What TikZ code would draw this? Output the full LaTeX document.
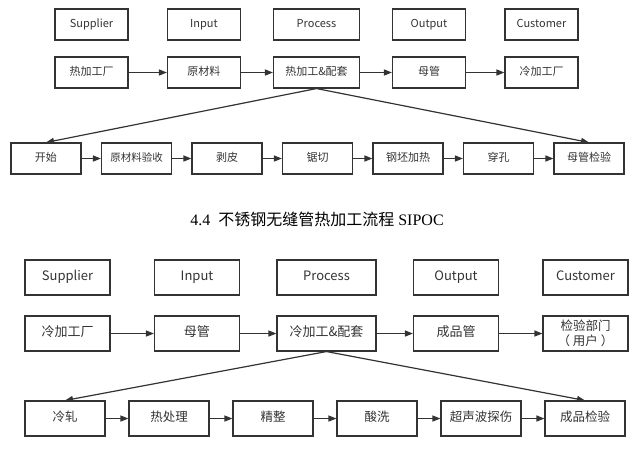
\documentclass[tikz,border=0pt]{standalone}
\usepackage{fontspec}
\setmainfont{Liberation Serif}
\newfontfamily\cjk{Noto Sans CJK SC}
\usetikzlibrary{arrows.meta}
\definecolor{ink}{HTML}{333333}
\tikzset{
  box/.style={draw=ink, line width=1.1pt, text=ink, inner sep=1pt, anchor=center,
    text height=0.82em, text depth=0.24em,
    minimum width=73pt, minimum height=31pt, font=\cjk\fontsize{11}{13}\selectfont},
  bigbox/.style={box, minimum width=85pt, minimum height=35pt,
    font=\cjk\fontsize{13}{15}\selectfont},
  link/.style={draw=ink, line width=1.2pt, -{Triangle[length=8pt,width=6pt]}},
}

\begin{document}
\begin{tikzpicture}[x=1pt, y=-1pt]
    \useasboundingbox (0,0) rectangle (642,450);
    % hot working SIPOC
    \matrix[nodes=box, column sep={112.5pt,between origins}, row sep={48pt,between origins}] at (316.5,48.5) {
    \node (S) {Supplier}; & \node (I) {Input}; & \node[minimum width=86pt] (P) {Process}; & \node (O) {Output}; & \node (C) {Customer}; \\
    \node (s) {热加工厂}; & \node (i) {原材料}; & \node[minimum width=86pt] (p) {热加工\&配套}; & \node (o) {母管}; & \node (c) {冷加工厂}; \\
    };
    \matrix[nodes={box, minimum width=70pt}, column sep={90.5pt,between origins}] at (317.5,158.5) {
    \node (start) {开始}; & \node[font=\cjk\fontsize{10.5}{12}\selectfont] (accept) {原材料验收}; & \node (peel) {剥皮}; & \node (saw) {锯切}; & \node (heat) {钢坯加热}; & \node (pierce) {穿孔}; & \node (check) {母管检验}; \\
    };
    \draw[link] (s) -- (i);
    \draw[link] (i) -- (p);
    \draw[link] (p) -- (o);
    \draw[link] (o) -- (c);
    \draw[link] (p.south) -- (start.north);
    \draw[link] (p.south) -- (check.north);
    \draw[link] (start) -- (accept);
    \draw[link] (accept) -- (peel);
    \draw[link] (peel) -- (saw);
    \draw[link] (saw) -- (heat);
    \draw[link] (heat) -- (pierce);
    \draw[link] (pierce) -- (check);

    \node (cap) at (317,219) {\fontsize{16}{18}\selectfont 4.4\ \ {\cjk 不锈钢无缝管热加工流程} SIPOC};

    % cold working SIPOC
    \matrix[nodes=bigbox, column sep={129.5pt,between origins}, row sep={56pt,between origins}] at (326.5,305.5) {
    \node (S2) {Supplier}; & \node (I2) {Input}; & \node[minimum width=99pt] (P2) {Process}; & \node (O2) {Output}; & \node (C2) {Customer}; \\
    \node (s2) {冷加工厂}; & \node (i2) {母管}; & \node[minimum width=99pt] (p2) {冷加工\&配套}; & \node (o2) {成品管}; & \node[align=center, text height={}, text depth={}, font=\cjk\fontsize{12.5}{15}\selectfont] (c2) {检验部门\\（ 用户 ）}; \\
    };
    \matrix[nodes={bigbox, minimum width=80pt, font=\cjk\fontsize{12.5}{15}\selectfont}, column sep={104pt,between origins}] at (325,418.5) {
    \node (roll) {冷轧}; & \node (anneal) {热处理}; & \node (finish) {精整}; & \node (pickle) {酸洗}; & \node (flaw) {超声波探伤}; & \node (final) {成品检验}; \\
    };
    \draw[link] (s2) -- (i2);
    \draw[link] (i2) -- (p2);
    \draw[link] (p2) -- (o2);
    \draw[link] (o2) -- (c2);
    \draw[link] (p2.south) -- (roll.north);
    \draw[link] (p2.south) -- (final.north);
    \draw[link] (roll) -- (anneal);
    \draw[link] (anneal) -- (finish);
    \draw[link] (finish) -- (pickle);
    \draw[link] (pickle) -- (flaw);
    \draw[link] (flaw) -- (final);
  \end{tikzpicture}
\end{document}
